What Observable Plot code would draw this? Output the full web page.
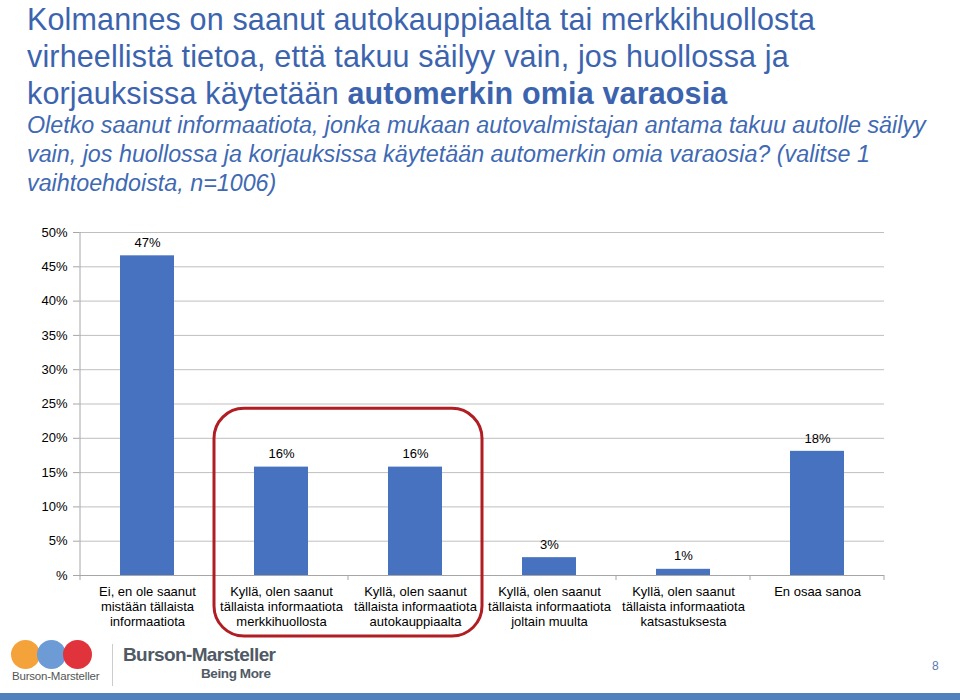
<!DOCTYPE html>
<html>
<head>
<meta charset="utf-8">
<script src="https://cdn.jsdelivr.net/npm/d3@7"></script>
<script src="https://cdn.jsdelivr.net/npm/@observablehq/plot@0.6"></script>
<style>
  html, body { margin: 0; padding: 0; background: #fff; width: 960px; height: 700px; overflow: hidden; position: relative; font-family: "Liberation Sans", Arial, sans-serif; }
  #title { position: absolute; left: 27px; top: 1px; width: 930px; font-size: 30.5px; line-height: 37px; color: #3C64AE; white-space: nowrap; letter-spacing: 0.15px; }
  #title b { font-weight: bold; }
  #subtitle { position: absolute; left: 27px; top: 111px; width: 930px; font-size: 23.3px; line-height: 29px; font-style: italic; color: #4069B3; white-space: nowrap; }
  #chart { position: absolute; left: 0; top: 210px; }
  #footer-bar { position: absolute; left: 0; top: 693px; width: 960px; height: 7px; background: #4F81BD; }
  #page { position: absolute; left: 932px; top: 659px; font-size: 12px; color: #5B79AE; }
  .logo-circle { position: absolute; width: 29px; height: 29px; border-radius: 50%; }
  #logo-small { position: absolute; left: 12px; top: 670px; font-size: 11.5px; color: #555; letter-spacing: -0.2px; }
  #logo-sep { position: absolute; left: 112px; top: 644px; width: 1px; height: 42px; background: #ccc; }
  #logo-big { position: absolute; left: 123px; top: 644px; font-size: 19px; line-height: 21px; font-weight: bold; color: #505A64; letter-spacing: -0.6px; }
  #logo-tag { position: absolute; left: 201px; top: 666px; font-size: 13.5px; line-height: 15px; font-weight: bold; color: #505A64; letter-spacing: -0.4px; }
</style>
</head>
<body>
<div id="title">Kolmannes on saanut autokauppiaalta tai merkkihuollosta<br>virheellistä tietoa, että takuu säilyy vain, jos huollossa ja<br>korjauksissa käytetään <b>automerkin omia varaosia</b></div>
<div id="subtitle">Oletko saanut informaatiota, jonka mukaan autovalmistajan antama takuu autolle säilyy<br>vain, jos huollossa ja korjauksissa käytetään automerkin omia varaosia? (valitse 1<br>vaihtoehdoista, n=1006)</div>
<div id="chart"></div>
<div class="logo-circle" style="left:11px;top:640px;background:#F4A23A;"></div>
<div class="logo-circle" style="left:37px;top:640px;background:#6D9BD6;"></div>
<div class="logo-circle" style="left:63px;top:640px;background:#E1333C;"></div>
<div id="logo-small">Burson-Marsteller</div>
<div id="logo-sep"></div>
<div id="logo-big">Burson-Marsteller</div>
<div id="logo-tag">Being More</div>
<div id="page">8</div>
<div id="footer-bar"></div>
<script>
const categories = [
  "Ei, en ole saanut\nmistään tällaista\ninformaatiota",
  "Kyllä, olen saanut\ntällaista informaatiota\nmerkkihuollosta",
  "Kyllä, olen saanut\ntällaista informaatiota\nautokauppiaalta",
  "Kyllä, olen saanut\ntällaista informaatiota\njoltain muulta",
  "Kyllä, olen saanut\ntällaista informaatiota\nkatsastuksesta",
  "En osaa sanoa"
];
const values = [46.6, 15.8, 15.8, 2.6, 0.9, 18.1];
const valueLabels = ["47%", "16%", "16%", "3%", "1%", "18%"];
const yTicks = [0, 5, 10, 15, 20, 25, 30, 35, 40, 45, 50];
const yTickLabels = ["%", "5%", "10%", "15%", "20%", "25%", "30%", "35%", "40%", "45%", "50%"];
// highlighted group (rounded frame): from/to category index, top/bottom in % units
const highlightFrom = 1, highlightTo = 2, highlightTop = 24.3, highlightBottom = -8.9;

const data = categories.map((c, i) => ({category: c, value: values[i], label: valueLabels[i]}));

const chart = Plot.plot({
  width: 960,
  height: 440,
  marginTop: 22,
  marginBottom: 75,
  marginLeft: 79,
  marginRight: 76,
  style: {fontFamily: "Liberation Sans, Arial, sans-serif", fontSize: "13px", color: "#000", background: "#fff"},
  x: {domain: categories, paddingInner: 0.6, paddingOuter: 0.3, label: null},
  y: {domain: [0, 50], label: null},
  marks: [
    Plot.gridY(yTicks, {stroke: "#BFBFBF", strokeOpacity: 1}),
    Plot.barY(data, {x: "category", y: "value", fill: "#4672C0"}),
    Plot.text(data, {x: "category", y: "value", text: "label", dy: -13, fontSize: 13, fill: "#000"}),
    Plot.ruleY([0], {stroke: "#A6A6A6"}),
    Plot.axisY(yTicks, {tickFormat: (d) => yTickLabels[yTicks.indexOf(d)], tickSize: 6, tickPadding: 6, stroke: "#A6A6A6", fill: "#000", fontSize: 13, label: null}),
    Plot.axisX({tickSize: 0, tickPadding: 10, lineHeight: 1.15, fontSize: 13, fill: "#000", label: null})
  ]
});
document.getElementById("chart").appendChild(chart);

// decorations derived from the chart's scales
const xs = chart.scale("x"), ys = chart.scale("y");
const step = xs.step, bw = xs.bandwidth;
const g = d3.select(chart).append("g");
const y0 = ys.apply(0), y50 = ys.apply(50);
const leftEdge = xs.apply(categories[0]) - (step - bw) / 2;
// left axis line
g.append("line").attr("x1", leftEdge).attr("x2", leftEdge).attr("y1", y50).attr("y2", y0).attr("stroke", "#A6A6A6");
// category boundary ticks
for (let i = 0; i <= categories.length; i++) {
  const bx = leftEdge + i * step;
  g.append("line").attr("x1", bx).attr("x2", bx).attr("y1", y0).attr("y2", y0 + 5).attr("stroke", "#A6A6A6");
}
// rounded highlight frame
const hx1 = xs.apply(categories[highlightFrom]) - (step - bw) / 2;
const hx2 = xs.apply(categories[highlightTo]) + bw + (step - bw) / 2;
const hy1 = ys.apply(highlightTop), hy2 = ys.apply(highlightBottom);
g.append("rect").attr("x", hx1).attr("y", hy1).attr("width", hx2 - hx1).attr("height", hy2 - hy1)
  .attr("rx", 30).attr("ry", 30).attr("fill", "none").attr("stroke", "#B01E23").attr("stroke-width", 3);
</script>
</body>
</html>
